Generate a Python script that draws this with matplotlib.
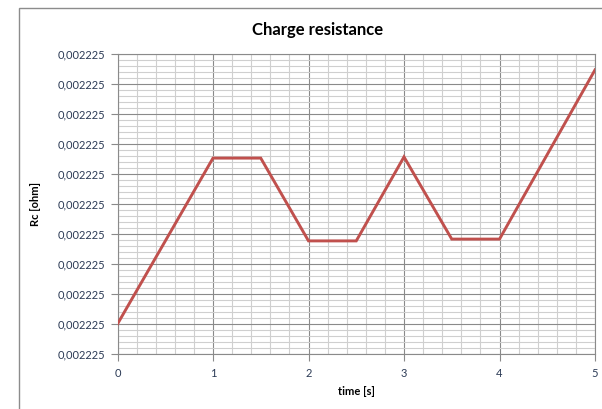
import numpy as np
import matplotlib.pyplot as plt
from matplotlib.ticker import MultipleLocator, FuncFormatter
from matplotlib.patches import Rectangle

# charge resistance over time (offset from base value, in 1e-10 ohm)
time_s = [0, 1, 1.5, 2, 2.5, 3, 3.5, 4, 5]
rc_offset = [1.0, 6.53, 6.53, 3.77, 3.77, 6.57, 3.83, 3.83, 9.47]
rc_base = 0.002225
rc_unit = 1e-10

rc = [rc_base + v * rc_unit for v in rc_offset]

plt.rcParams['font.family'] = ['Lato', 'DejaVu Sans']

fig = plt.figure(figsize=(6.02, 4.09), dpi=100)
ax = fig.add_axes([117.5 / 602, 1 - 354 / 409, (595 - 117.5) / 602, 300 / 409])

# chart outline
fig.patches.append(Rectangle((19 / 602, -0.1), 1.2, 1 - 8 / 409 + 0.1,
                             transform=fig.transFigure, fill=False,
                             edgecolor='#8c8c8c', linewidth=1.0))

ax.plot(time_s, rc, color='#c0504d', linewidth=2.1, solid_joinstyle='miter', zorder=3)

ax.set_xlim(0, 5)
ax.set_ylim(rc_base, rc_base + 10 * rc_unit)
ax.xaxis.set_major_locator(MultipleLocator(1))
ax.xaxis.set_minor_locator(MultipleLocator(0.2))
ax.yaxis.set_major_locator(MultipleLocator(rc_unit))
ax.yaxis.set_minor_locator(MultipleLocator(rc_unit / 5))
ax.yaxis.set_major_formatter(FuncFormatter(lambda v, p: f'{v:.6f}'.replace('.', ',')))
ax.xaxis.set_major_formatter(FuncFormatter(lambda v, p: f'{v:g}'))

ax.grid(which='major', color='#8a8a8a', linewidth=0.8)
ax.grid(which='minor', color='#cfcfcf', linewidth=0.8)
ax.set_axisbelow(True)

for s in ax.spines.values():
    s.set_color('#8a8a8a')
    s.set_linewidth(0.8)

ax.tick_params(which='major', direction='out', length=5, color='#8a8a8a',
               labelsize=8, labelcolor='#2b3a55', pad=4)
ax.tick_params(axis='x', pad=5)
ax.tick_params(which='minor', length=0)

fig.text(318 / 602, 1 - 30 / 409, 'Charge resistance', fontsize=12,
         fontweight='bold', ha='center', va='center')
ax.set_xlabel('time [s]', fontsize=8, fontweight='bold', labelpad=5)
ax.set_ylabel('Rc [ohm]', fontsize=8, fontweight='bold', labelpad=12)

fig.savefig('out.png', dpi=100)
